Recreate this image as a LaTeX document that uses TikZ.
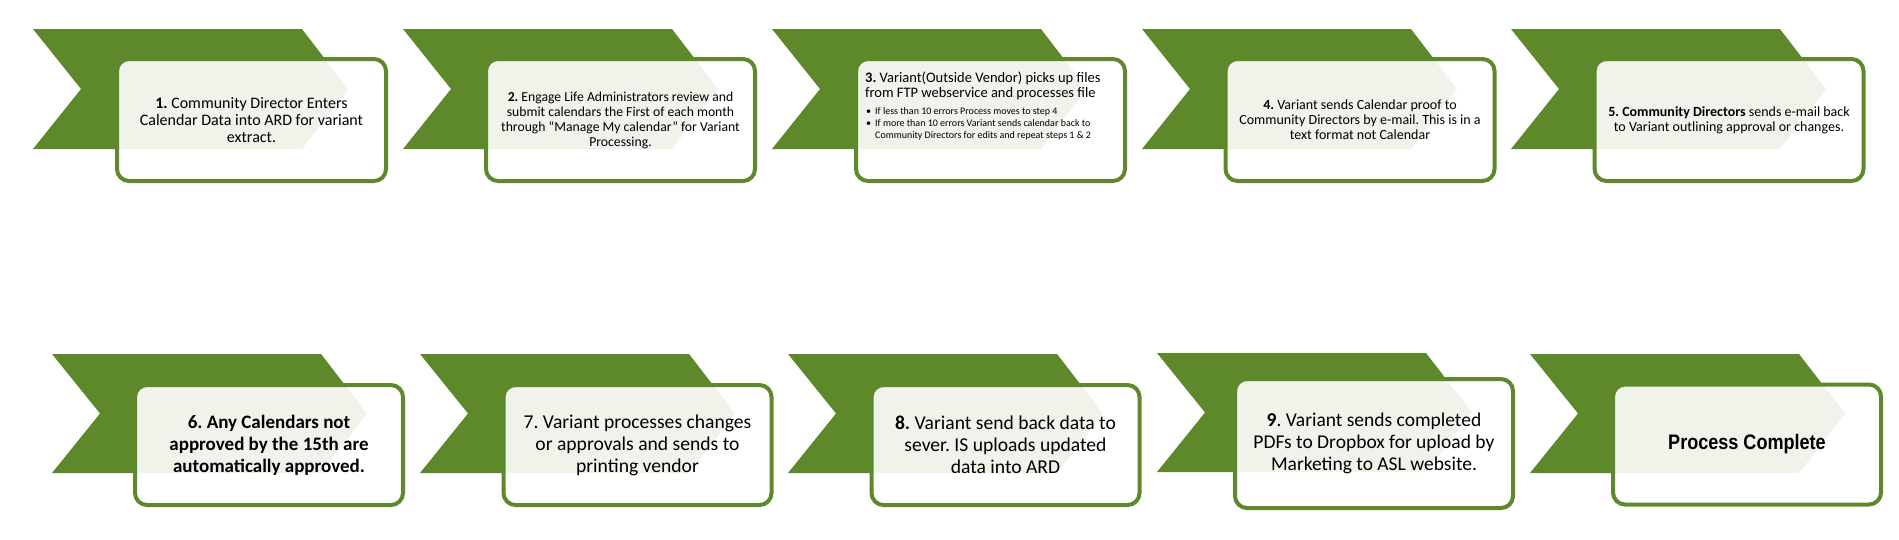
\documentclass[tikz,border=0pt]{standalone}
\usepackage{fontspec}
\setmainfont{Carlito}
\newfontfamily\arialfont{Liberation Sans}
\definecolor{cgreen}{RGB}{94,137,42}
\frenchspacing
\newcommand\chev[3]{%
  \fill[cgreen] (#1,#2) -- ++(269,0) -- ++(46,#3) -- ++(-46,#3) -- ++(-269,0) -- ++(48,-#3) -- cycle;}
\begin{document}
\frenchspacing
\begin{tikzpicture}[x=1pt,y=-1pt,
  box/.style={draw=cgreen, line width=4pt, rounded corners=12pt, fill=white,
    fill opacity=0.9, text opacity=1, minimum width=269pt, minimum height=122pt, inner sep=0pt},
  boxb/.style={box, minimum width=268pt, minimum height=120pt},
  txt/.style={align=center, text=black, inner sep=0pt},
  rowone/.style={font=\fontsize{16}{17}\selectfont},
  rowtwo/.style={font=\fontsize{19.6}{22}\selectfont}]
\useasboundingbox (0,0) rectangle (1899,539);
% row 1 chevrons
\chev{33}{29}{60}
\chev{403}{29}{60}
\chev{772}{29}{60}
\chev{1142}{29}{60}
\chev{1511}{29}{60}
% row 2 chevrons
\chev{52}{354}{59.5}
\chev{420}{354}{59.5}
\chev{788}{354}{59.5}
\chev{1157}{353}{59.5}
\chev{1530}{354}{59.5}
% row 1 boxes
\node[box] (b1) at (251.5,120) {};
\node[box] (b2) at (620.5,120) {};
\node[box] (b3) at (990.5,120) {};
\node[box] (b4) at (1360,120) {};
\node[box] (b5) at (1729,120) {};
% row 2 boxes
\node[boxb] (b6) at (269,445) {};
\node[boxb] (b7) at (637.5,445) {};
\node[boxb] (b8) at (1005.5,445) {};
\node[box, minimum width=278pt, minimum height=129pt] (b9) at (1374,443.5) {};
\node[boxb] (b10) at (1747,444.5) {};
% texts row 1
\node[txt, rowone] (t1) at (b1) {\textbf{1.} Community Director Enters\\Calendar Data into ARD for variant\\extract.};
\node[txt, font=\fontsize{13.7}{15}\selectfont] (t2) at (b2) {\textbf{2.} Engage Life Administrators review and\\submit calendars the First of each month\\through “Manage My calendar” for Variant\\Processing.};
\node[txt, align=left, anchor=north west, font=\fontsize{14.5}{15}\selectfont] (t3) at (865,72) {\textbf{3.} Variant(Outside Vendor) picks up files\\from FTP webservice and processes file};
\node[txt, align=left, anchor=north west] (t3b) at (866,106) {\fontsize{10}{12}\selectfont
  \begin{tabular}{@{}l@{\hspace{4pt}}l@{}}
  \textbullet & If less than 10 errors Process moves to step 4\\
  \textbullet & If more than 10 errors Variant sends calendar back to\\
   & Community Directors for edits and repeat steps 1 \& 2
  \end{tabular}};
\node[txt, font=\fontsize{14}{15}\selectfont] (t4) at (b4) {\textbf{4.} Variant sends Calendar proof to\\Community Directors by e-mail. This is in a\\text format not Calendar};
\node[txt, font=\fontsize{14}{15}\selectfont] (t5) at (b5) {\textbf{5. Community Directors} sends e-mail back\\to Variant outlining approval or changes.};
% texts row 2
\node[txt, font=\fontsize{19}{22}\selectfont] (t6) at (b6) {\bfseries 6. Any Calendars not\\\bfseries approved by the 15th are\\\bfseries automatically approved.};
\node[txt, rowtwo] (t7) at (b7) {7. Variant processes changes\\or approvals and sends to\\printing vendor};
\node[txt, rowtwo] (t8) at (b8) {\textbf{8.} Variant send back data to\\sever. IS uploads updated\\data into ARD};
\node[txt, font=\fontsize{19.5}{22}\selectfont] (t9) at (b9) {\textbf{9}. Variant sends completed\\PDFs to Dropbox for upload by\\Marketing to ASL website.};
\node[txt, font=\arialfont\bfseries\fontsize{21}{24}\selectfont] (t10) at (b10) {\scalebox{0.86}[1]{Process Complete}};
\end{tikzpicture}
\end{document}
